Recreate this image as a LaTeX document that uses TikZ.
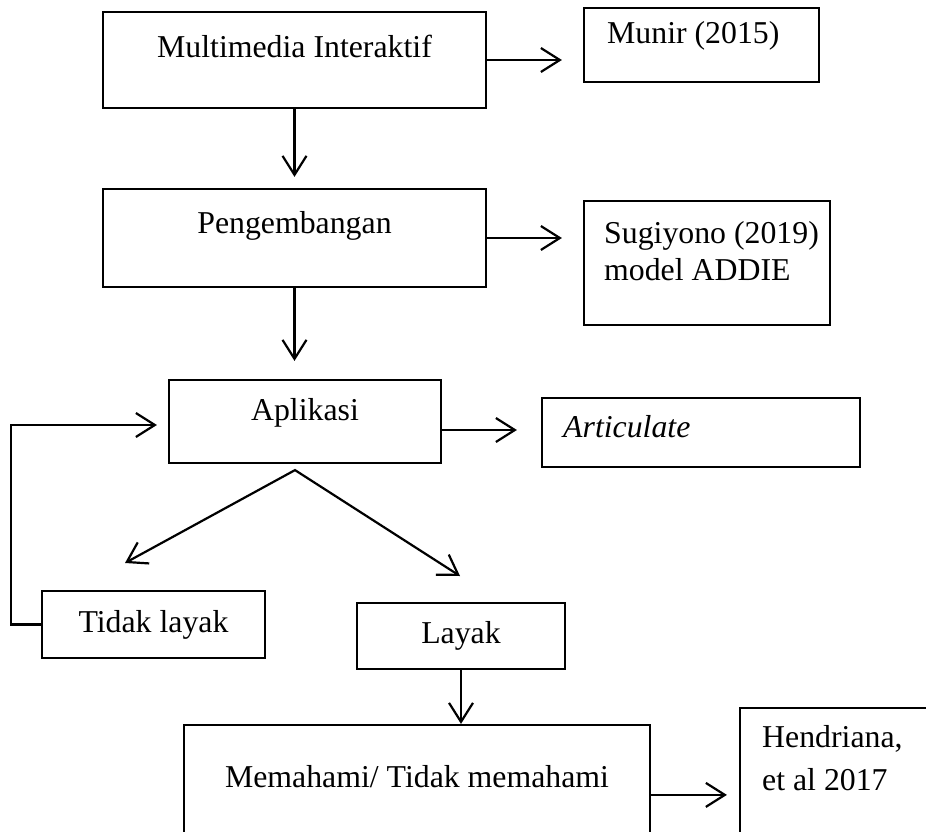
\documentclass[tikz,border=0pt]{standalone}
\usepackage{fontspec}
\setmainfont{Liberation Serif}
\usetikzlibrary{arrows.meta,calc}
\begin{document}
\begin{tikzpicture}[x=1pt,y=1pt,
  box/.style={draw,line width=2.2pt,inner sep=0pt,minimum width=#1},
  txt/.style={inner sep=0pt,font=\fontsize{31.8}{37}\selectfont},
  arr/.style={line width=2.2pt,-{Straight Barb[length=19pt,width=24pt,line width=2.2pt]}},
  arrtwo/.style={line width=2.2pt,{Straight Barb[length=19pt,width=24pt,line width=2.2pt]}-{Straight Barb[length=19pt,width=24pt,line width=2.2pt]}}]
\useasboundingbox (0,0) rectangle (926,-832);
\clip (0,0) rectangle (926,-832);
% boxes
\node[box=383,minimum height=96] (mi) at (294.5,-60) {};
\node[box=235,minimum height=74] (munir) at (701.5,-45) {};
\node[box=383,minimum height=98] (peng) at (294.5,-238) {};
\node[box=246,minimum height=124] (sugi) at (707,-263) {};
\node[box=272,minimum height=83] (apl) at (305,-421.5) {};
\node[box=318,minimum height=69] (art) at (701,-432.5) {};
\node[box=223,minimum height=67] (tl) at (153.5,-624.5) {};
\node[box=208,minimum height=66] (ly) at (461,-636) {};
\node[box=466,minimum height=175] (mem) at (417,-812.5) {};
\node[box=220,minimum height=192] (hend) at (850,-804) {};
% texts
\node[txt,anchor=base] (mi-t) at (294.5,-58) {Multimedia Interaktif};
\node[txt,anchor=base west] (munir-t) at (607,-44) {Munir (2015)};
\node[txt,anchor=base] (peng-t) at (294.5,-233) {Pengembangan};
\node[txt,anchor=base west] (sugi-t1) at (604,-243) {Sugiyono (2019)};
\node[txt,anchor=base west] (sugi-t2) at (604,-280) {model ADDIE};
\node[txt,anchor=base] (apl-t) at (305,-420) {Aplikasi};
\node[txt,anchor=base west] (art-t) at (563,-437) {\itshape Articulate};
\node[txt,anchor=base] (tl-t) at (153.5,-632) {Tidak layak};
\node[txt,anchor=base] (ly-t) at (461,-643) {Layak};
\node[txt,anchor=base] (mem-t) at (417,-787) {Memahami/ Tidak memahami};
\node[txt,anchor=base west] (hend-t1) at (762,-747) {Hendriana,};
\node[txt,anchor=base west] (hend-t2) at (762,-790) {et al 2017};
% connectors
\draw[arr,shorten >=21pt] (mi.east) -- (mi.east -| munir.west);
\draw[arr,shorten >=11pt] (mi.south) -- (mi.south |- peng.north);
\draw[arr,shorten >=21pt] (peng.east) -- (peng.east -| sugi.west);
\draw[arr,shorten >=18pt] (peng.south) -- (peng.south |- apl.north);
\coordinate (aplR) at ($(apl.east)+(0,-8.5)$);
\draw[arr,shorten >=24pt] (aplR) -- (aplR -| art.west);
\coordinate (fb) at ($(apl.west)+(0,-3.5)$);
\draw[arr,shorten >=11pt] (tl.west) -- ++(-30,0) |- (fb);
\coordinate (apex) at ($(apl.south)+(-10,-6)$);
\coordinate (tipL) at (125,-563);
\coordinate (tipR) at (460,-576);
\draw[arrtwo] (tipL) -- (apex) -- (tipR);
\draw[arr] (ly.south) -- (ly.south |- mem.north);
\coordinate (memR) at ($(mem.north east)+(0,-71)$);
\draw[arr,shorten >=12pt] (memR) -- (memR -| hend.west);
\end{tikzpicture}
\end{document}
